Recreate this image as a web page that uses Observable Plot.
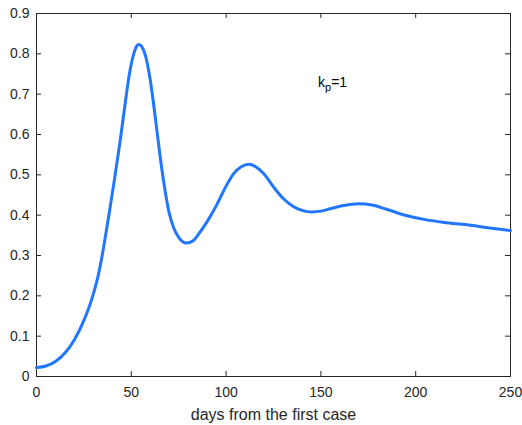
<!DOCTYPE html>
<html>
<head>
<meta charset="utf-8">
<script src="https://cdn.jsdelivr.net/npm/d3@7"></script>
<script src="https://cdn.jsdelivr.net/npm/@observablehq/plot@0.6"></script>
<style>
  body { margin: 0; background: #fff; }
  #chart svg { font-family: "Liberation Sans", Arial, sans-serif; }
  #chart [aria-label="x-axis label"] text { font-size: 16px; }
</style>
</head>
<body>
<div id="chart"></div>
<script>
const days = [0, 5, 10, 15, 20, 25, 30, 33, 35, 38, 41, 44, 47, 49, 51, 53, 54, 55.5, 57.5, 60, 62.5, 65, 67.5, 70, 72.5, 75, 79, 83, 85, 90, 95, 100, 104, 108, 112, 116, 120, 125, 130, 135, 140, 145, 150, 155, 162, 170, 177, 185, 195, 205, 215, 227, 238, 250];
const values = [0.022, 0.026, 0.037, 0.058, 0.091, 0.139, 0.205, 0.26, 0.31, 0.395, 0.485, 0.58, 0.685, 0.75, 0.795, 0.82, 0.823, 0.818, 0.795, 0.735, 0.648, 0.553, 0.47, 0.405, 0.367, 0.345, 0.331, 0.338, 0.35, 0.384, 0.425, 0.472, 0.503, 0.52, 0.526, 0.519, 0.502, 0.47, 0.442, 0.423, 0.412, 0.408, 0.41, 0.416, 0.424, 0.428, 0.425, 0.414, 0.399, 0.389, 0.382, 0.376, 0.369, 0.362];
const xTicks = [0, 50, 100, 150, 200, 250];
const yTicks = [0, 0.1, 0.2, 0.3, 0.4, 0.5, 0.6, 0.7, 0.8, 0.9];
const xLabel = "days from the first case";
const annotation = [{x: 148.5, y: 0.728, text: "k_p=1"}];

const data = days.map((d, i) => ({d, v: values[i]}));
const axisColor = "#262626";
const fmt = d => String(+d.toFixed(1));

const W = 522, H = 425, ML = 36, MR = 12, MT = 13, MB = 49, TICK = 5;
const innerW = W - ML - MR, innerH = H - MT - MB;

const plot = Plot.plot({
  width: W,
  height: H,
  marginLeft: ML,
  marginRight: MR,
  marginTop: MT,
  marginBottom: MB,
  style: {fontSize: "14px", color: axisColor, background: "#fff"},
  x: {domain: [0, 250], ticks: xTicks},
  y: {domain: [0, 0.9], ticks: yTicks},
  marks: [
    Plot.frame({stroke: axisColor, strokeWidth: 1}),
    Plot.axisX(xTicks, {anchor: "bottom", tickSize: 0, tickPadding: 11, fontSize: 14, label: xLabel, labelAnchor: "center", labelArrow: "none", labelOffset: 43, fill: axisColor}),
    Plot.axisY(yTicks, {anchor: "left", tickSize: 0, tickPadding: 7, fontSize: 14, tickFormat: fmt, label: null, fill: axisColor}),
    // inward tick marks on all four sides
    Plot.tickX(xTicks, {x: d => d, insetTop: innerH - TICK, stroke: axisColor, strokeWidth: 1}),
    Plot.tickX(xTicks, {x: d => d, insetBottom: innerH - TICK, stroke: axisColor, strokeWidth: 1}),
    Plot.tickY(yTicks, {y: d => d, insetRight: innerW - TICK, stroke: axisColor, strokeWidth: 1}),
    Plot.tickY(yTicks, {y: d => d, insetLeft: innerW - TICK, stroke: axisColor, strokeWidth: 1}),
    Plot.line(data, {x: "d", y: "v", stroke: "#2176ff", strokeWidth: 3, curve: "monotone-x"}),
    Plot.text(annotation, {x: "x", y: "y", text: "text", textAnchor: "start", fontSize: 14, fill: "#000", className: "kp-label"})
  ]
});
document.getElementById("chart").appendChild(plot);

// render subscript in annotation
d3.select(plot).selectAll(".kp-label text").each(function() {
  const t = d3.select(this);
  const s = t.text();
  const m = s.match(/^(.*)_(.)(.*)$/);
  if (!m) return;
  t.text(null);
  t.append("tspan").text(m[1]);
  t.append("tspan").attr("baseline-shift", "-35%").attr("font-size", "11px").text(m[2]);
  t.append("tspan").text(m[3]);
});
</script>
</body>
</html>
